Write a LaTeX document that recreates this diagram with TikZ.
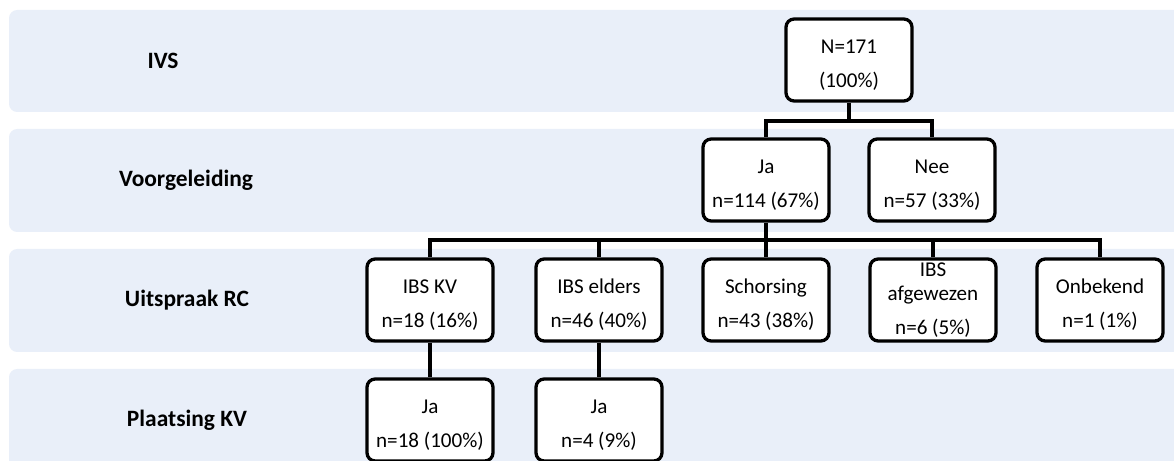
\documentclass[tikz,border=0pt]{standalone}
\usepackage{fontspec}
\setmainfont{Carlito}
\usepackage{xcolor}
\usepackage{tikz}
\definecolor{bandblue}{RGB}{233,239,249}
\newcommand{\lift}{\rule{0pt}{21pt}}

\begin{document}
\begin{tikzpicture}[x=0.03cm, y=-0.03cm, line width=2.8pt,
    band/.style={fill=bandblue, draw=none, rounded corners=7pt},
    lbl/.style={font=\fontsize{20}{24}\selectfont\bfseries},
    box/.style={draw, fill=white, rounded corners=7pt, minimum width=3.78cm,
        minimum height=2.46cm, inner sep=0pt, align=center,
        font=\fontsize{18}{20}\selectfont}]
    \useasboundingbox (0,0) rectangle (1174,461);
    \clip (0,0) rectangle (1174,461);
    \fill[band] (9,10) rectangle (1200,112);
    \fill[band] (9,129) rectangle (1200,232);
    \fill[band] (9,249) rectangle (1200,352);
    \fill[band] (9,369) rectangle (1200,480);
    \node[lbl] (lblivs) at (163,61) {IVS};
    \node[lbl] (lblvoor) at (186,180) {Voorgeleiding};
    \node[lbl] (lblrc) at (187,300) {Uitspraak RC};
    \node[lbl] (lblkv) at (187,420) {Plaatsing KV};
    \node[box] (top) at (849,60) {\lift N=171\\[9pt](100\%)};
    \node[box] (ja) at (766,180) {\lift Ja\\[9pt]n=114 (67\%)};
    \node[box] (nee) at (932,180) {\lift Nee\\[9pt]n=57 (33\%)};
    \node[box] (ibskv) at (430,300) {\lift IBS KV\\[9pt]n=18 (16\%)};
    \node[box] (elders) at (599,300) {\lift IBS elders\\[9pt]n=46 (40\%)};
    \node[box] (schors) at (766,300) {\lift Schorsing\\[9pt]n=43 (38\%)};
    \node[box] (afgew) at (933,300) {IBS\\afgewezen\\[9pt]n=6 (5\%)};
    \node[box] (onbek) at (1100,300) {\lift Onbekend\\[9pt]n=1 (1\%)};
    \node[box] (kvja) at (430,420) {\lift Ja\\[9pt]n=18 (100\%)};
    \node[box] (eldersja) at (599,420) {\lift Ja\\[9pt]n=4 (9\%)};
    \coordinate (split1) at (849,121);
    \coordinate (split2) at (766,240);
    \draw (top) -- (split1);
    \draw (ja.north) |- (split1) -| (nee.north);
    \draw (ja) -- (split2);
    \draw (ibskv.north) |- (split2) -| (onbek.north);
    \draw (elders.north) -- (elders.north |- split2);
    \draw (schors) -- (split2);
    \draw (afgew.north) -- (afgew.north |- split2);
    \draw (ibskv) -- (kvja);
    \draw (elders) -- (eldersja);
\end{tikzpicture}
\end{document}
